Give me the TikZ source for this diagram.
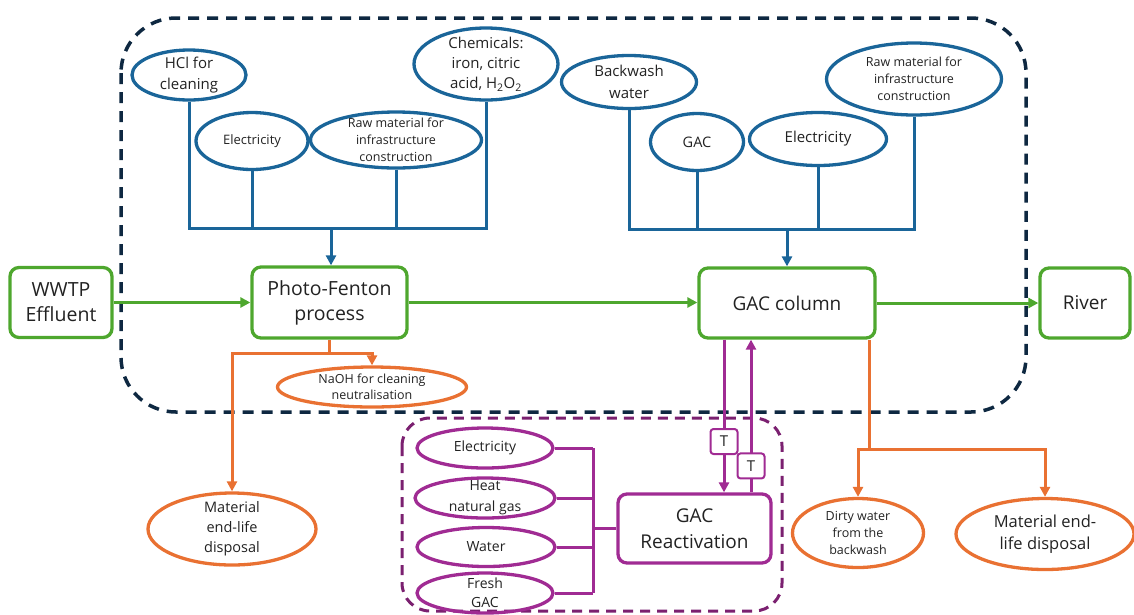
\documentclass[tikz,border=0pt]{standalone}
\usepackage{fontspec}
\setmainfont{Open Sans}
\usetikzlibrary{shapes.geometric,arrows.meta}
\definecolor{cblue}{HTML}{1A6599}
\definecolor{cgreen}{HTML}{4EA72E}
\definecolor{corange}{HTML}{E97132}
\definecolor{cpurple}{HTML}{A02B93}
\definecolor{cnavy}{HTML}{0E2841}
\definecolor{cdpurple}{HTML}{7B2070}
\definecolor{ctext}{HTML}{222222}
\newcommand{\fs}[2]{\fontsize{#1}{#2}\selectfont}
\tikzset{
  tip/.style={-{Triangle[length=10pt,width=10pt]}},
  gbox/.style={draw=cgreen, line width=3.3pt, rounded corners=9pt, align=center, text=ctext, inner sep=0pt},
  ell/.style={ellipse, line width=3.3pt, align=center, text=ctext, inner sep=-8pt},
  be/.style={ell, draw=cblue},
  oe/.style={ell, draw=corange},
  pe/.style={ell, draw=cpurple},
  bline/.style={draw=cblue, line width=3pt},
  gline/.style={draw=cgreen, line width=3pt},
  oline/.style={draw=corange, line width=3pt},
  pline/.style={draw=cpurple, line width=3pt},
  tbox/.style={draw=cpurple, line width=2pt, rounded corners=3pt, fill=white, minimum width=27pt, minimum height=25pt, inner sep=0pt, text=ctext, font=\fs{15}{16}},
}
\begin{document}
\begin{tikzpicture}[x=1pt,y=-1pt]
\useasboundingbox (0,0) rectangle (1134,614);
% dashed system boundaries
\draw[cnavy, line width=3.5pt, dash pattern=on 11pt off 8pt, rounded corners=55pt] (121,18) rectangle (1026,412);
\draw[cdpurple, line width=3pt, dash pattern=on 10pt off 7pt, rounded corners=28pt] (402,418) rectangle (782,611);

% green process boxes
\node[gbox, minimum width=102pt, minimum height=70pt, font=\fs{19.5}{25}] (wwtp) at (61,302.5) {WWTP\\Effluent};
\node[gbox, minimum width=155pt, minimum height=71pt, font=\fs{19.5}{25}] (pf) at (329.5,302.5) {Photo-Fenton\\process};
\node[gbox, minimum width=176pt, minimum height=70pt, font=\fs{19}{24}] (gac) at (787,303) {GAC column};
\node[gbox, minimum width=90pt, minimum height=70pt, font=\fs{19}{24}] (river) at (1085,303) {River};

% blue inputs, photo-Fenton
\node[be, minimum width=114pt, minimum height=50pt, font=\fs{15}{20.5}] (hcl) at (189,75) {HCl for\\cleaning};
\node[be, minimum width=112pt, minimum height=57pt, font=\fs{13}{17}] (el1) at (252,141) {Electricity};
\node[be, minimum width=171pt, minimum height=56pt, font=\fs{12.5}{17}] (raw1) at (396,140) {Raw material for\\infrastructure\\construction};
\node[be, minimum width=144pt, minimum height=72pt, font=\fs{15}{20}] (chem) at (486,64) {Chemicals:\\iron, citric\\acid, H\textsubscript{2}O\textsubscript{2}};

% blue inputs, GAC column
\node[be, minimum width=135pt, minimum height=53pt, font=\fs{15}{21.5}] (bw) at (629,82) {Backwash\\water};
\node[be, minimum width=93pt, minimum height=57pt, font=\fs{14.5}{17}] (gacin) at (697,142) {GAC};
\node[be, minimum width=137pt, minimum height=53pt, font=\fs{15}{18}] (el2) at (818,139) {Electricity};
\node[be, minimum width=175pt, minimum height=72pt, font=\fs{12.5}{17}] (raw2) at (914,79) {Raw material for\\infrastructure\\construction};

% orange outputs
\node[oe, minimum width=189pt, minimum height=40pt, font=\fs{12.5}{16.5}] (naoh) at (372,387) {NaOH for cleaning\\neutralisation};
\node[oe, minimum width=168pt, minimum height=72pt, font=\fs{14.5}{20}] (mat1) at (232,529) {Material\\end-life\\disposal};
\node[oe, minimum width=131pt, minimum height=69pt, font=\fs{12.5}{16.7}] (dirty) at (858,533) {Dirty water\\from the\\backwash};
\node[oe, minimum width=178pt, minimum height=71pt, font=\fs{16.5}{22}] (mat2) at (1045,534) {Material end-\\life disposal};

% purple reactivation
\node[pe, minimum width=136pt, minimum height=40pt, font=\fs{14}{18}] (pe1) at (485,448) {Electricity};
\node[pe, minimum width=140pt, minimum height=40pt, font=\fs{14}{21}] (pe2) at (485,498) {Heat\\natural gas};
\node[pe, minimum width=138pt, minimum height=39pt, font=\fs{14}{18}] (pe3) at (486,547) {Water};
\node[pe, minimum width=136pt, minimum height=40pt, font=\fs{14}{19}] (pe4) at (485,593) {Fresh\\GAC};
\node[draw=cpurple, line width=3.3pt, rounded corners=9pt, align=center, text=ctext, inner sep=0pt, minimum width=153pt, minimum height=69pt, font=\fs{19}{26}] (react) at (694.5,528.5) {GAC\\Reactivation};

% green main flow
\draw[gline, tip] (wwtp.east) -- (pf.west);
\draw[gline, tip] (pf.east) -- (pf.east -| gac.west);
\draw[gline, tip] (gac.east) -- (gac.east -| river.west);

% blue buses
\coordinate (b1) at (331,228);
\draw[bline] (hcl.south) -- (hcl.south |- b1) -- (chem.south |- b1) -- (chem.south);
\draw[bline] (el1.south) -- (el1.south |- b1);
\draw[bline] (raw1.south) -- (raw1.south |- b1);
\draw[bline, tip] (b1) -- (b1 |- pf.north);

\coordinate (b2) at (787,229);
\draw[bline] (bw.south) -- (bw.south |- b2) -- (raw2.south |- b2) -- (raw2.south);
\draw[bline] (gacin.south) -- (gacin.south |- b2);
\draw[bline] (el2.south) -- (el2.south |- b2);
\draw[bline, tip] (b2) -- (gac.north);

% orange outputs
\coordinate (o1) at (329.5,353);
\draw[oline] (pf.south) -- (o1);
\draw[oline, tip] (o1) -| (mat1.north);
\draw[oline, tip] (o1) -| (naoh.north);

\coordinate (o2) at (869,449);
\draw[oline] (o2 |- gac.south) -- (o2);
\draw[oline, tip] (o2) -| (dirty.north);
\draw[oline, tip] (o2) -| (mat2.north);

% purple bus
\coordinate (pb) at (593,528.5);
\foreach \n in {pe1,pe2,pe3,pe4} { \draw[pline] (\n.east) -- (\n.east -| pb); }
\draw[pline] (pe1.east -| pb) -- (pe4.east -| pb);
\draw[pline] (pb) -- (react.west);

% transport arrows
\coordinate (p1) at (724,0);
\coordinate (p2) at (751,0);
\draw[pline, tip] (p1 |- gac.south) -- node[tbox, pos=0.667] (t1) {T} (p1 |- react.north);
\draw[pline, tip] (p2 |- react.north) -- node[tbox, pos=0.173] (t2) {T} (p2 |- gac.south);
\end{tikzpicture}
\end{document}
